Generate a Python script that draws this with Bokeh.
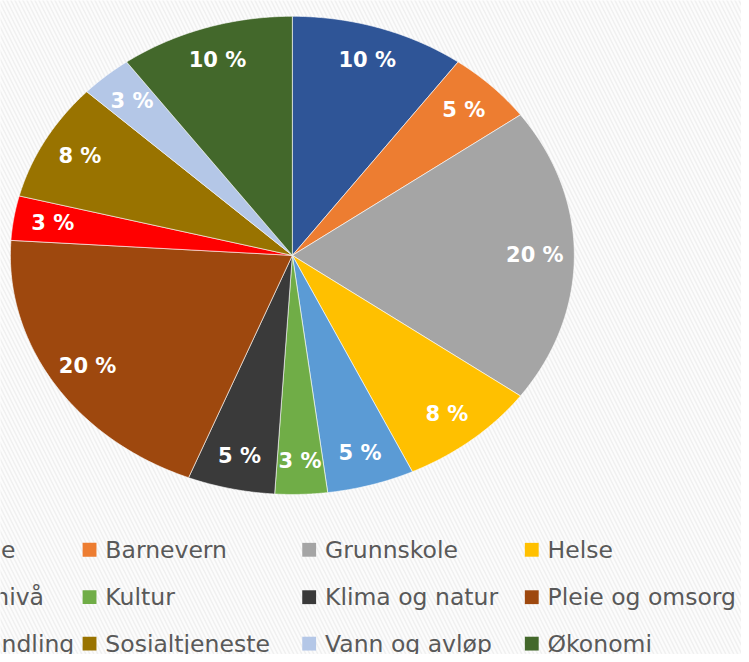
import numpy as np
from bokeh.plotting import figure
from bokeh.models import Range1d
from bokeh.core.properties import value
from bokeh.embed import file_html
from bokeh.resources import INLINE

# ---- data ----
categories = ["Barnehage", "Barnevern", "Grunnskole", "Helse",
              "Kostnadsnivå", "Kultur", "Klima og natur", "Pleie og omsorg",
              "Saksbehandling", "Sosialtjeneste", "Vann og avløp", "Økonomi"]
shares = [10, 5, 20, 8, 5, 3, 5, 20, 3, 8, 3, 10]
colors = ["#2F5597", "#ED7D31", "#A5A5A5", "#FFC000",
          "#5B9BD5", "#70AD47", "#3A3A3A", "#9E480E",
          "#FF0000", "#997300", "#B4C7E7", "#43682B"]

# ---- layout (reference-picture pixels) ----
W, H = 741, 654
CX, CY = 295, 258      # pie centre
RX, RY = 285, 242      # ellipse radii (chart is stretched horizontally)
LABEL_R = 0.86

p = figure(width=W, height=H, output_backend="svg", toolbar_location=None,
           x_range=Range1d(0, 749), y_range=Range1d(662, 0),
           min_border=0, outline_line_color=None)
p.axis.visible = False
p.grid.visible = False
p.background_fill_color = "white"
p.border_fill_color = "white"

# faint striped backdrop
p.quad(left=[-50], right=[900], top=[-50], bottom=[900],
       fill_color="#fcfcfc", line_color=None,
       hatch_pattern="left_diagonal_line", hatch_color="#e8e8e8",
       hatch_weight=1.5, hatch_scale=8, hatch_alpha=0.6)

vals = np.array(shares, dtype=float)
frac = vals / vals.sum()
ends = np.cumsum(frac)
starts = ends - frac

xs, ys, lx, ly, labels = [], [], [], [], []
for s, e, v in zip(starts, ends, shares):
    th = np.linspace(s, e, 80) * 2 * np.pi   # clockwise from 12 o'clock
    xs.append(np.concatenate([[CX], CX + RX * np.sin(th)]))
    ys.append(np.concatenate([[CY], CY - RY * np.cos(th)]))
    m = (s + e) / 2 * 2 * np.pi
    lx.append(CX + LABEL_R * RX * np.sin(m))
    ly.append(CY - LABEL_R * RY * np.cos(m))
    labels.append(f"{v} %")

p.patches(xs, ys, fill_color=colors, line_color="white", line_width=0.6)
p.text(x=lx, y=ly, text=labels, text_color="white",
       text_font=value("DejaVu Sans"), text_font_style="bold",
       text_font_size="21px", text_align="center", text_baseline="middle")

# legend (4 columns, 3 rows; first column runs off the left edge)
col_x = [-137, 83, 305, 530]
row_y = [556, 604, 651]
mx, my, tx, ty = [], [], [], []
for i, name in enumerate(categories):
    c, r = i % 4, i // 4
    mx.append(col_x[c] + 7)
    my.append(row_y[r])
    tx.append(col_x[c] + 23)
    ty.append(row_y[r])
p.rect(x=mx, y=my, width=14, height=14, fill_color=colors, line_color=None)
p.text(x=tx, y=ty, text=categories, text_color="#595959",
       text_font=value("DejaVu Sans"), text_font_size="23.5px",
       text_align="left", text_baseline="middle")

open("out.html", "w").write(file_html(p, INLINE))
